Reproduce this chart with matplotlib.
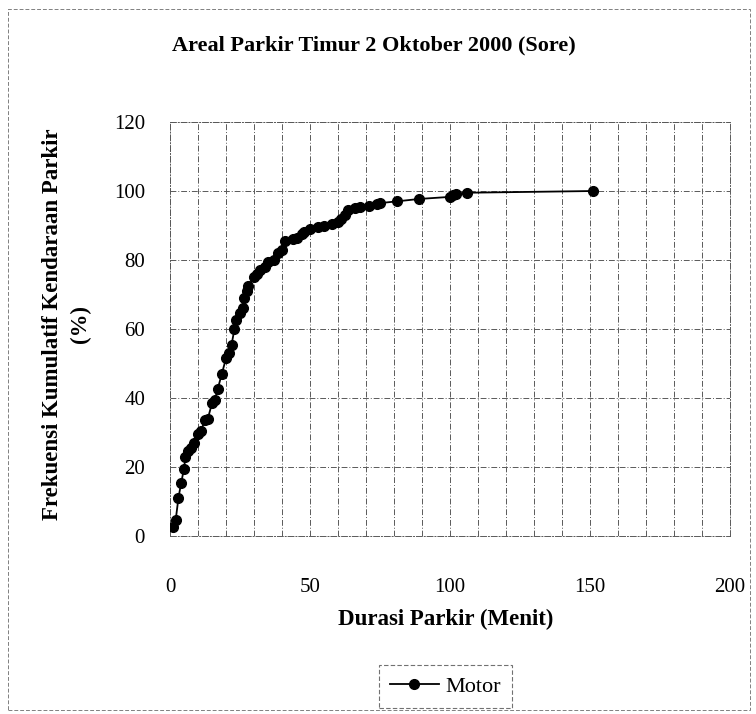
import matplotlib
matplotlib.use("Agg")
import matplotlib.pyplot as plt
from matplotlib.patches import Rectangle

durasi = [1, 2, 3, 4, 5, 5.5, 6.5, 7.5, 8.5, 10, 11, 12.5, 13.5, 15, 16, 17, 18.5,
          20, 21, 22, 23, 23.5, 25, 26, 26.5, 27.5, 28, 30, 31, 32, 34, 35, 37,
          38.5, 40, 41, 44, 45.5, 47, 48, 50, 53, 55, 58, 60, 61, 62.5, 63.5, 66,
          68, 71, 74, 75, 81, 89, 100, 101, 102, 106, 151]
kumulatif = [2.5, 4.5, 11, 15.5, 19.5, 23, 24.5, 25.5, 27, 29.5, 30.5, 33.5, 34,
             38.5, 39.5, 42.5, 47, 51.5, 53, 55.5, 60, 62.5, 64.5, 66, 69, 71,
             72.5, 75, 76, 77, 78, 79.5, 80, 82, 83, 85.5, 86, 86.5, 87.5, 88, 89,
             89.5, 90, 90.5, 91, 92, 93, 94.5, 95, 95.5, 95.8, 96.2, 96.5, 97,
             97.7, 98.3, 98.8, 99.2, 99.5, 100]
series_name = "Motor"
x_ticks = [0, 50, 100, 150, 200]
y_ticks = [0, 20, 40, 60, 80, 100, 120]

serif = ["Liberation Serif", "DejaVu Serif"]
plt.rcParams["font.family"] = serif

fig = plt.figure(figsize=(7.56, 7.14), dpi=100)
ax = fig.add_axes([0.2249, 0.2493, 0.7407, 0.5798])

ax.plot(durasi, kumulatif, color="black", linewidth=1.3, marker="o",
        markersize=7, label=series_name, zorder=3)

ax.set_xlim(0, 200)
ax.set_ylim(0, 120)
ax.set_xticks(x_ticks)
ax.set_xticks(range(0, 201, 10), minor=True)
ax.set_yticks(y_ticks)
ax.tick_params(axis="x", which="both", length=0, pad=30, labelsize=15)
ax.tick_params(axis="y", which="both", length=0, pad=18, labelsize=15)
ax.grid(True, which="both", color="0.35", linestyle=(0, (6, 2, 1, 2)), linewidth=0.7)
for s in ax.spines.values():
    s.set_color("0.35")
    s.set_linestyle((0, (6, 2, 1, 2)))
    s.set_linewidth(0.7)

fig.text(0.495, 0.936, "Areal Parkir Timur 2 Oktober 2000 (Sore)", ha="center",
         va="center", fontsize=16, fontweight="bold")
fig.text(0.088, 0.546, "Frekuensi Kumulatif Kendaraan Parkir\n(%)", ha="center",
         va="center", rotation=90, fontsize=16.5, fontweight="bold", linespacing=1.45)
fig.text(0.59, 0.133, "Durasi Parkir (Menit)", ha="center", va="center",
         fontsize=16.5, fontweight="bold")

leg = fig.legend(loc="center", bbox_to_anchor=(0.589, 0.038), fontsize=16,
                 frameon=True, fancybox=False, handlelength=2.2,
                 borderpad=0.5, handletextpad=0.3)
leg.get_frame().set_edgecolor("0.3")
leg.get_frame().set_linewidth(0.8)
leg.get_frame().set_linestyle((0, (4, 2)))

fig.patches.append(Rectangle((0.011, 0.006), 0.981, 0.982, transform=fig.transFigure,
                             fill=False, edgecolor="0.5", linewidth=0.7,
                             linestyle=(0, (4, 2))))

fig.savefig("out.png", dpi=100)
